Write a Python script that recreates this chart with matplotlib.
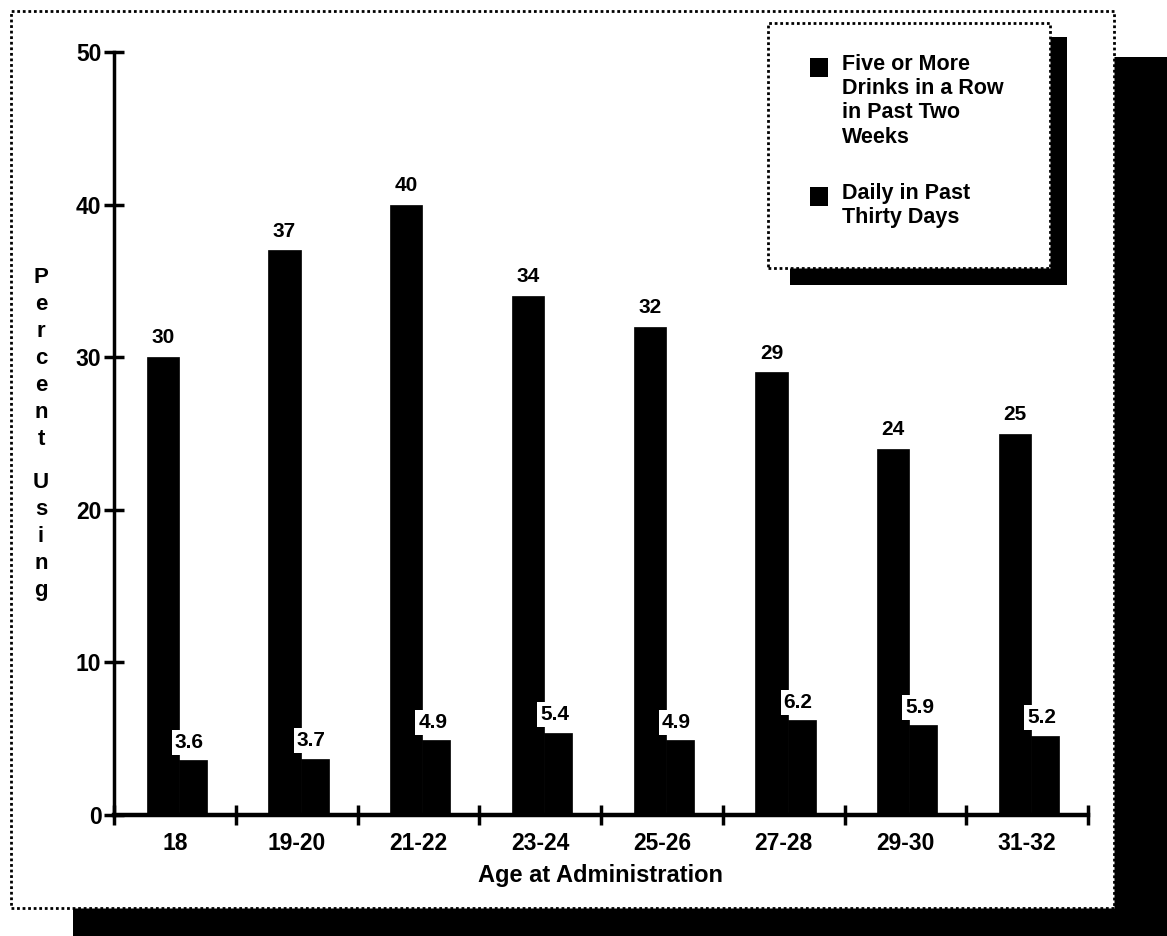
import matplotlib
matplotlib.use('Agg')
import matplotlib.pyplot as plt
from matplotlib.patches import Rectangle
import numpy as np

# ---- data ----
categories = ["18", "19-20", "21-22", "23-24", "25-26", "27-28", "29-30", "31-32"]
five_plus = [30, 37, 40, 34, 32, 29, 24, 25]
daily = [3.6, 3.7, 4.9, 5.4, 4.9, 6.2, 5.9, 5.2]
five_plus_labels = ["30", "37", "40", "34", "32", "29", "24", "25"]
daily_labels = ["3.6", "3.7", "4.9", "5.4", "4.9", "6.2", "5.9", "5.2"]
series_names = ["Five or More\nDrinks in a Row\nin Past Two\nWeeks",
                "Daily in Past\nThirty Days"]
yticks = [0, 10, 20, 30, 40, 50]
ylabel_text = "Percent Using"
xlabel_text = "Age at Administration"

plt.rcParams['font.family'] = ['Liberation Sans', 'DejaVu Sans']
plt.rcParams['font.weight'] = 'bold'

W, H = 1167, 936
fig = plt.figure(figsize=(W / 100, H / 100), dpi=100)


def fx(px):
    return px / W


def fy(py):
    return 1 - py / H


def frect(x0, y0, x1, y1, **kw):
    return Rectangle((fx(x0), fy(y1)), fx(x1) - fx(x0), fy(y0) - fy(y1),
                     transform=fig.transFigure, **kw)


dots = (0, (1, 1))
# page shadow and dotted frame
fig.add_artist(frect(73, 57, 1167, 936, facecolor='black', edgecolor='none', zorder=0))
fig.add_artist(frect(11, 11, 1114, 908, facecolor='white', edgecolor='black',
                     linestyle=dots, linewidth=2, zorder=1))

ax = fig.add_axes([fx(114), fy(815), fx(1088) - fx(114), fy(52) - fy(815)])
ax.set_zorder(2)
ax.patch.set_visible(False)

x = np.arange(len(categories))
b1 = ax.bar(x + 0.40, five_plus, 0.265, color='black', edgecolor='black',
            linewidth=0.5, zorder=2)
b2 = ax.bar(x + 0.6475, daily, 0.23, color='black', edgecolor='black',
            linewidth=0.5, zorder=2)

for xi, v, t in zip(x, five_plus, five_plus_labels):
    ax.annotate(t, (xi + 0.40, v), xytext=(0, 7), textcoords='offset points',
                ha='center', va='bottom', fontsize=15, fontweight='bold')
for xi, v, t in zip(x, daily, daily_labels):
    ax.annotate(t, (xi + 0.62, v), xytext=(0, 6), textcoords='offset points',
                ha='center', va='bottom', fontsize=15, fontweight='bold', zorder=3,
                bbox=dict(boxstyle='square,pad=0.15', fc='white', ec='none'))

ax.set_xlim(0, len(categories))
ax.set_ylim(0, 50)
for s in ['top', 'right']:
    ax.spines[s].set_visible(False)
ax.spines['left'].set_linewidth(2.5)
ax.spines['bottom'].set_linewidth(3.2)

ax.set_yticks(yticks)
ax.tick_params(axis='y', direction='inout', length=14, width=2.5, labelsize=16.5, pad=2)
ax.set_xticks(x + 0.5)
ax.set_xticklabels(categories)
ax.set_xticks(np.arange(len(categories) + 1), minor=True)
ax.tick_params(axis='x', which='major', length=0, labelsize=16.5, pad=12)
ax.tick_params(axis='x', which='minor', direction='inout', length=14, width=2.5)
for lbl in ax.get_xticklabels() + ax.get_yticklabels():
    lbl.set_fontweight('bold')

ax.set_xlabel(xlabel_text, fontsize=17, fontweight='bold', labelpad=7)

# vertical stacked y label
words = ylabel_text.split()
y0s = [283, 488]
for w, yb in zip(words, y0s):
    for k, ch in enumerate(w):
        fig.text(fx(41), fy(yb + 27 * k), ch, ha='center', va='baseline',
                 fontsize=16, fontweight='bold', zorder=5)

# legend box with shadow
fig.add_artist(frect(790, 37, 1067, 285, facecolor='black', edgecolor='none', zorder=3))
fig.add_artist(frect(768, 23, 1050, 268, facecolor='white', edgecolor='black',
                     linestyle=dots, linewidth=2, zorder=4))
for (ytop, bars, name) in [(58, b1, series_names[0]), (187, b2, series_names[1])]:
    fig.add_artist(frect(810, ytop, 828, ytop + 19,
                         facecolor=bars.patches[0].get_facecolor(), edgecolor='none', zorder=5))
    fig.text(fx(842), fy(ytop - 4), name, ha='left', va='top', fontsize=15.5,
             fontweight='bold', linespacing=1.2, zorder=5)

fig.savefig('out.png', dpi=100)
